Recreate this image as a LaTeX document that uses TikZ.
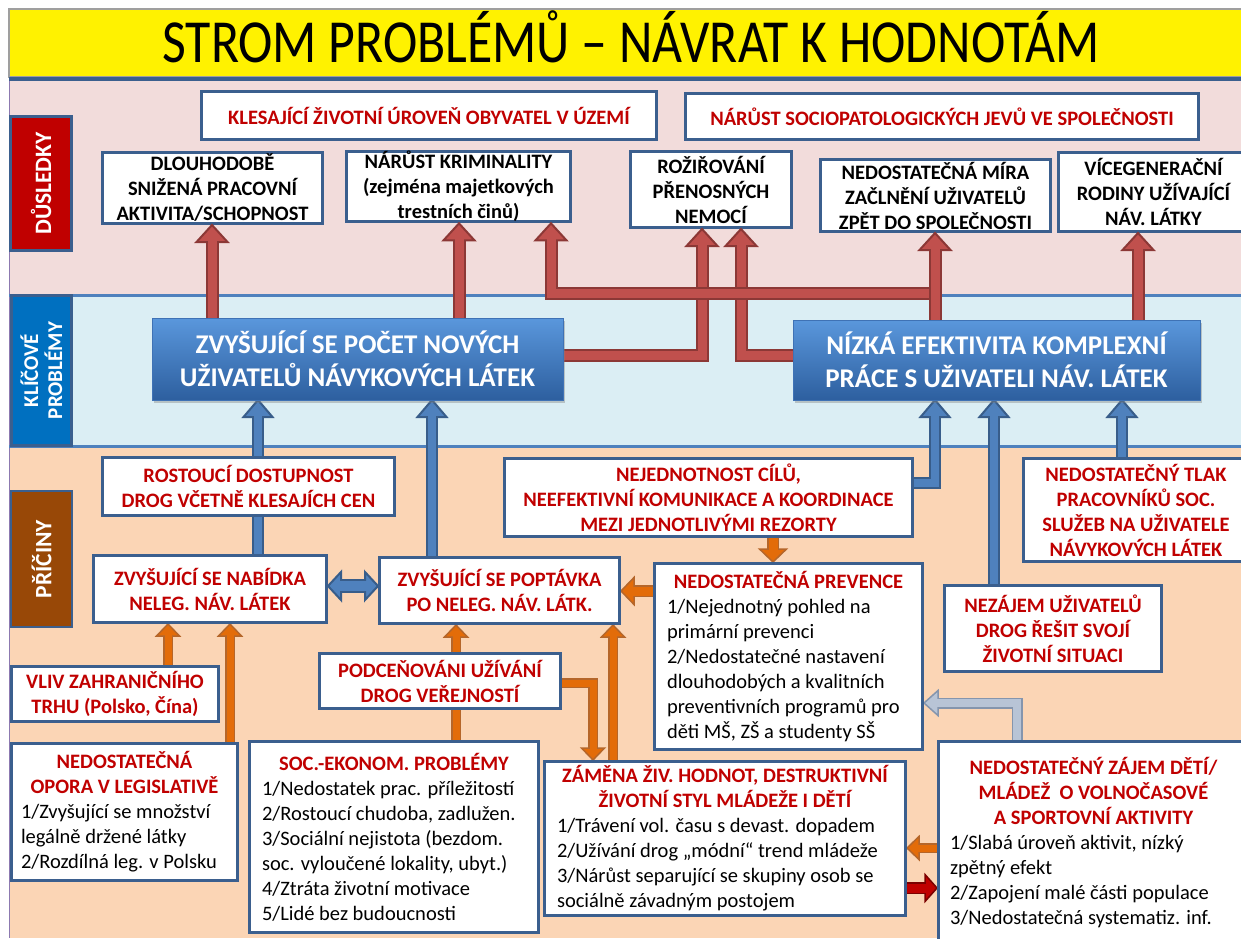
\documentclass[tikz,border=0pt]{standalone}
\usepackage{fontspec}
\setmainfont{Carlito}
\usetikzlibrary{shadows}

% palette
\definecolor{bandPink}{HTML}{F2DCDB}
\definecolor{bandBlue}{HTML}{DBEEF4}
\definecolor{bandPeach}{HTML}{FBD5B5}
\definecolor{frame}{HTML}{3B5F8E}
\definecolor{lineBlue}{HTML}{4F81BD}
\definecolor{txtRed}{HTML}{C00000}
\definecolor{sideRed}{HTML}{C00000}
\definecolor{sideBlue}{HTML}{0070C0}
\definecolor{sideBrown}{HTML}{984807}
\definecolor{redF}{HTML}{C0504D}
\definecolor{redB}{HTML}{8C3836}
\definecolor{blueF}{HTML}{4F81BD}
\definecolor{blueB}{HTML}{385D8A}
\definecolor{orF}{HTML}{E36C09}
\definecolor{orB}{HTML}{B5662A}
\definecolor{grayF}{HTML}{B8C4D6}
\definecolor{grayB}{HTML}{8595AD}
\definecolor{dredF}{HTML}{C00000}
\definecolor{dredB}{HTML}{7B0000}
\definecolor{keyTop}{HTML}{5A97DC}
\definecolor{keyBot}{HTML}{2D5F9F}
\definecolor{keyEdge}{HTML}{3F72B5}
\definecolor{edgeViolet}{HTML}{8C79B0}

\tikzset{
  redarrow/.code={\def\aw{9pt}\def\ow{13pt}\def\bw{2pt}\def\hl{17pt}\def\hlf{15pt}\def\hh{15.5pt}\colorlet{af}{redF}\colorlet{ab}{redB}},
  bluearrow/.code={\def\aw{8pt}\def\ow{12pt}\def\bw{2pt}\def\hl{17pt}\def\hlf{15pt}\def\hh{14.5pt}\colorlet{af}{blueF}\colorlet{ab}{blueB}},
  bluedbl/.code={\def\aw{10pt}\def\ow{14pt}\def\bw{2pt}\def\hl{13pt}\def\hlf{11pt}\def\hh{14pt}\colorlet{af}{blueF}\colorlet{ab}{blueB}},
  orangearrow/.code={\def\aw{7pt}\def\ow{10pt}\def\bw{1.5pt}\def\hl{12pt}\def\hlf{10.5pt}\def\hh{11.5pt}\colorlet{af}{orF}\colorlet{ab}{orB}},
  orangebig/.code={\def\aw{9pt}\def\ow{12pt}\def\bw{1.5pt}\def\hl{13pt}\def\hlf{11.5pt}\def\hh{13.5pt}\colorlet{af}{orF}\colorlet{ab}{orB}},
  grayarrow/.code={\def\aw{8pt}\def\ow{11pt}\def\bw{1.5pt}\def\hl{14pt}\def\hlf{12.5pt}\def\hh{12.5pt}\colorlet{af}{grayF}\colorlet{ab}{grayB}},
  darkredarrow/.code={\def\aw{9pt}\def\ow{12pt}\def\bw{1.5pt}\def\hl{12pt}\def\hlf{10.5pt}\def\hh{13.5pt}\colorlet{af}{dredF}\colorlet{ab}{dredB}},
  box/.style={rectangle, draw=frame, line width=3pt, fill=white, inner sep=0pt, align=center,
    font=\bfseries\fontsize{20.5pt}{25pt}\selectfont},
  conbox/.style={box, text=black},
  causebox/.style={box, text=txtRed},
  listbox/.style={box, text=black, font=\fontsize{20.5pt}{25pt}\selectfont},
  listw/.style={execute at begin node={\def\lw{#1pt}}},
  place/.style={inner sep=0pt, outer sep=1.5pt},
  keybox/.style={rectangle, inner sep=0pt, align=center, text=white, draw=keyEdge, line width=1pt,
    top color=keyTop, bottom color=keyBot,
    drop shadow={shadow xshift=2pt, shadow yshift=-3pt, opacity=0.4},
    font=\bfseries\fontsize{27pt}{33pt}\selectfont},
  sidebox/.style={rectangle, draw=frame, line width=2.5pt, inner sep=0pt, align=center, text=white,
    rotate=90, font=\bfseries\fontsize{23.5pt}{24pt}\selectfont},
}

% fat arrow: #1 palette, #2 path up to the last point, #3 tip, #4 direction of the last segment
\newcommand\blockarrow[4]{%
  \begin{scope}[#1, line join=miter]
    \coordinate (tip) at (#3);
    \draw[ab, line width=\ow, shorten >=\hl] #2 (tip);
    \filldraw[fill=af, draw=ab, line width=\bw]
      (tip) -- ([shift={({#4+180}:\hl)}, shift={({#4+90}:\hh)}]tip)
            -- ([shift={({#4+180}:\hl)}, shift={({#4-90}:\hh)}]tip) -- cycle;
    \draw[af, line width=\aw, shorten >=\hlf] #2 (tip);
  \end{scope}}

% fat arrow with a head at both ends
\newcommand\dblarrow[4]{%
  \begin{scope}[#1, line join=miter]
    \coordinate (tipA) at (#2);
    \coordinate (tipB) at (#3);
    \draw[ab, line width=\ow, shorten >=\hl, shorten <=\hl] (tipA) -- (tipB);
    \filldraw[fill=af, draw=ab, line width=\bw]
      (tipB) -- ([shift={({#4+180}:\hl)}, shift={({#4+90}:\hh)}]tipB)
             -- ([shift={({#4+180}:\hl)}, shift={({#4-90}:\hh)}]tipB) -- cycle;
    \filldraw[fill=af, draw=ab, line width=\bw]
      (tipA) -- ([shift={(#4:\hl)}, shift={({#4+90}:\hh)}]tipA)
             -- ([shift={(#4:\hl)}, shift={({#4-90}:\hh)}]tipA) -- cycle;
    \draw[af, line width=\aw, shorten >=\hlf, shorten <=\hlf] (tipA) -- (tipB);
  \end{scope}}

\newcommand\hd[1]{{\color{txtRed}\bfseries #1}}
\newcommand\li[1]{\makebox[\lw][l]{#1}}

\begin{document}
\begin{tikzpicture}[x=1pt,y=-1pt]
\useasboundingbox (0,0) rectangle (1241,938);
\clip (0,0) rectangle (1241,938);
\fill[white] (0,0) rectangle (1241,938);

% title bar
\filldraw[fill=yellow, draw=gray!75, line width=1.2pt] (9,9) rectangle (1250,77);
\node[anchor=base, font=\fontsize{51pt}{55pt}\selectfont] (title) at (631,62)
  {\scalebox{1.015}[1.2]{STROM PROBLÉMŮ – NÁVRAT K HODNOTÁM}};

% three bands
\fill[bandPink] (9,79) rectangle (1241,295);
\fill[bandBlue] (9,295) rectangle (1241,446);
\fill[bandPeach] (9,446) rectangle (1241,938);
\draw[edgeViolet, line width=1.2pt] (9.5,79) -- (9.5,938);
\draw[frame, line width=4pt] (9,79) -- (1241,79);
\draw[lineBlue, line width=3pt] (9,295) -- (1241,295);
\draw[lineBlue, line width=3pt] (9,446) -- (1241,446);

% section labels
\node[sidebox, fill=sideRed, minimum width=134pt, minimum height=61pt] (sD) at (41,183.5) {DŮSLEDKY};
\node[sidebox, fill=sideBlue, minimum width=150pt, minimum height=60pt,
      font=\bfseries\fontsize{21pt}{24pt}\selectfont] (sK) at (41.5,370.5) {KLÍČOVÉ\\PROBLÉMY};
\node[sidebox, fill=sideBrown, minimum width=136pt, minimum height=61pt] (sP) at (41.5,559) {PŘÍČINY};

% consequences
\node[causebox, minimum width=455pt, minimum height=48pt] (T1) at (429,115.5) {KLESAJÍCÍ ŽIVOTNÍ ÚROVEŇ OBYVATEL V ÚZEMÍ};
\node[causebox, minimum width=513pt, minimum height=46pt] (T2) at (942,116.5) {NÁRŮST SOCIOPATOLOGICKÝCH JEVŮ VE SPOLEČNOSTI};
\node[conbox, minimum width=220pt, minimum height=71pt] (C1) at (212.5,188) {DLOUHODOBĚ\\SNIŽENÁ PRACOVNÍ\\AKTIVITA/SCHOPNOST};
\node[conbox, minimum width=224pt, minimum height=70pt] (C2) at (458.5,186.5) {NÁRŮST KRIMINALITY\\(zejména majetkových\\trestních činů)};
\node[conbox, minimum width=161pt, minimum height=76pt] (C3) at (711,189.5) {ROŽIŘOVÁNÍ\\PŘENOSNÝCH\\NEMOCÍ};
\node[conbox, minimum width=230pt, minimum height=72pt] (C4) at (935.5,195.5) {NEDOSTATEČNÁ MÍRA\\ZAČLNĚNÍ UŽIVATELŮ\\ZPĚT DO SPOLEČNOSTI};
\node[conbox, minimum width=190pt, minimum height=79pt] (C5) at (1153.5,192) {VÍCEGENERAČNÍ\\RODINY UŽÍVAJÍCÍ\\NÁV. LÁTKY};

% places of the key problems and causes, so that connectors can run beneath the boxes
\path (357.5,359) node[place, outer sep=0pt, minimum width=411pt, minimum height=82pt] (K1) {};
\path (996.5,360) node[place, outer sep=0pt, minimum width=407pt, minimum height=80pt] (K2) {};
\path (248.5,486.5) node[place, minimum width=292pt, minimum height=58pt] (P1) {};
\path (210,589) node[place, minimum width=233pt, minimum height=67pt] (P2) {};
\path (499.5,590.5) node[place, minimum width=240pt, minimum height=66pt] (P3) {};
\path (708.5,497.5) node[place, minimum width=408pt, minimum height=78pt] (P4) {};
\path (788.5,656.5) node[place, minimum width=268pt, minimum height=186pt] (P5) {};
\path (1136,510) node[place, minimum width=225pt, minimum height=103pt] (P6) {};
\path (1053,628.5) node[place, minimum width=217pt, minimum height=86pt] (P7) {};
\path (115,694) node[place, minimum width=207pt, minimum height=55pt] (P8) {};
\path (124.5,812) node[place, minimum width=226pt, minimum height=137pt] (P9) {};
\path (440,681) node[place, minimum width=241pt, minimum height=55pt] (P10) {};
\path (394,837) node[place, minimum width=289pt, minimum height=191pt] (P11) {};
\path (725,838.5) node[place, minimum width=361pt, minimum height=154pt] (P12) {};
\path (1093.5,842.5) node[place, minimum width=310pt, minimum height=202pt] (P13) {};

% key problems -> consequences
\blockarrow{redarrow}{(K1.east |- 0,355) -- (702,355) --}{702,0 |- C3.south}{90}
\blockarrow{redarrow}{(K2.west |- 0,355) -- (741,355) --}{741,0 |- C3.south}{90}
\coordinate (fork) at (935,293);
\blockarrow{redarrow}{(fork) -- (551,293) --}{551,0 |- C2.south}{90}
\blockarrow{redarrow}{(935,0 |- K2.north) --}{935,0 |- C4.south}{90}
\blockarrow{redarrow}{(212,0 |- K1.north) --}{212,0 |- C1.south}{90}
\blockarrow{redarrow}{(459,0 |- K1.north) --}{459,0 |- C2.south}{90}
\blockarrow{redarrow}{(1138,0 |- K2.north) --}{1138,0 |- C5.south}{90}

% causes -> key problems
\blockarrow{bluearrow}{(258,0 |- P2.north) --}{258,0 |- K1.south}{90}
\blockarrow{bluearrow}{(432,0 |- P3.north) --}{432,0 |- K1.south}{90}
\blockarrow{bluearrow}{(P4.east |- 0,483) -- (935,483) --}{935,0 |- K2.south}{90}
\blockarrow{bluearrow}{(994,0 |- P7.north) --}{994,0 |- K2.south}{90}
\blockarrow{bluearrow}{(1122,0 |- P6.north) --}{1122,0 |- K2.south}{90}
\dblarrow{bluedbl}{P2.east |- 0,586}{P3.west |- 0,586}{0}

% links between causes
\blockarrow{orangebig}{(773,0 |- P4.south) --}{773,0 |- P5.north}{270}
\blockarrow{orangebig}{(P5.west |- 0,591) --}{P3.east |- 0,591}{180}
\blockarrow{orangearrow}{(613,0 |- P12.north) --}{613,0 |- P3.south}{90}
\blockarrow{orangearrow}{(P10.east |- 0,683) -- (593,683) --}{593,0 |- P12.north}{270}
\blockarrow{orangearrow}{(456,0 |- P11.north) --}{456,0 |- P3.south}{90}
\blockarrow{orangearrow}{(168,0 |- P8.north) --}{168,0 |- P2.south}{90}
\blockarrow{orangearrow}{(230,0 |- P9.north) --}{230,0 |- P2.south}{90}
\blockarrow{orangearrow}{(P13.west |- 0,848) --}{P12.east |- 0,848}{180}
\blockarrow{darkredarrow}{(P12.east |- 0,888) --}{P13.west |- 0,888}{0}
\blockarrow{grayarrow}{(1017,0 |- P13.north) -- (1017,703) --}{P5.east |- 0,703}{180}

% key problem boxes
\node[keybox, minimum width=411pt, minimum height=82pt] (K1b) at (K1) {ZVYŠUJÍCÍ SE POČET NOVÝCH\\UŽIVATELŮ NÁVYKOVÝCH LÁTEK};
\node[keybox, minimum width=407pt, minimum height=80pt] (K2b) at (K2) {NÍZKÁ EFEKTIVITA KOMPLEXNÍ\\PRÁCE S UŽIVATELI NÁV. LÁTEK};

% cause boxes
\node[causebox, minimum width=292pt, minimum height=58pt] (P1b) at (P1) {ROSTOUCÍ DOSTUPNOST\\DROG VČETNĚ KLESAJÍCH CEN};
\node[causebox, minimum width=233pt, minimum height=67pt] (P2b) at (P2) {ZVYŠUJÍCÍ SE NABÍDKA\\NELEG. NÁV. LÁTEK};
\node[causebox, minimum width=240pt, minimum height=66pt] (P3b) at (P3) {ZVYŠUJÍCÍ SE POPTÁVKA\\PO NELEG. NÁV. LÁTK.};
\node[causebox, minimum width=408pt, minimum height=78pt] (P4b) at (P4) {NEJEDNOTNOST CÍLŮ,\\NEEFEKTIVNÍ KOMUNIKACE A KOORDINACE\\MEZI JEDNOTLIVÝMI REZORTY};
\node[listbox, listw=243, minimum width=268pt, minimum height=186pt] (P5b) at (P5)
  {\hd{NEDOSTATEČNÁ PREVENCE}\\\li{1/Nejednotný pohled na}\\\li{primární prevenci}\\\li{2/Nedostatečné nastavení}\\\li{dlouhodobých a kvalitních}\\\li{preventivních programů pro}\\\li{děti MŠ, ZŠ a studenty SŠ}};
\node[causebox, minimum width=225pt, minimum height=103pt] (P6b) at (P6) {NEDOSTATEČNÝ TLAK\\PRACOVNÍKŮ SOC.\\SLUŽEB NA UŽIVATELE\\NÁVYKOVÝCH LÁTEK};
\node[causebox, minimum width=217pt, minimum height=86pt] (P7b) at (P7) {NEZÁJEM UŽIVATELŮ\\DROG ŘEŠIT SVOJÍ\\ŽIVOTNÍ SITUACI};
\node[causebox, minimum width=207pt, minimum height=55pt] (P8b) at (P8) {VLIV ZAHRANIČNÍHO\\TRHU (Polsko, Čína)};
\node[listbox, listw=207, minimum width=226pt, minimum height=137pt] (P9b) at (P9)
  {\hd{NEDOSTATEČNÁ}\\\hd{OPORA V LEGISLATIVĚ}\\\li{1/Zvyšující se množství}\\\li{legálně držené látky}\\\li{2/Rozdílná leg. v Polsku}};
\node[causebox, minimum width=241pt, minimum height=55pt] (P10b) at (P10) {PODCEŇOVÁNI UŽÍVÁNÍ\\DROG VEŘEJNOSTÍ};
\node[listbox, listw=264, minimum width=289pt, minimum height=191pt] (P11b) at (P11)
  {\hd{SOC.-EKONOM. PROBLÉMY}\\\li{1/Nedostatek prac. příležitostí}\\\li{2/Rostoucí chudoba, zadlužen.}\\\li{3/Sociální nejistota (bezdom.}\\\li{soc. vyloučené lokality, ubyt.)}\\\li{4/Ztráta životní motivace}\\\li{5/Lidé bez budoucnosti}};
\node[listbox, listw=336, minimum width=361pt, minimum height=154pt] (P12b) at (P12)
  {\hd{ZÁMĚNA ŽIV. HODNOT, DESTRUKTIVNÍ}\\\hd{ŽIVOTNÍ STYL MLÁDEŽE I DĚTÍ}\\\li{1/Trávení vol. času s devast. dopadem}\\\li{2/Užívání drog „módní“ trend mládeže}\\\li{3/Nárůst separující se skupiny osob se}\\\li{sociálně závadným postojem}};
\node[listbox, listw=287, minimum width=310pt, minimum height=202pt] (P13b) at (P13)
  {\hd{NEDOSTATEČNÝ ZÁJEM DĚTÍ/}\\\hd{MLÁDEŽ\ \ O VOLNOČASOVÉ}\\\hd{A SPORTOVNÍ AKTIVITY}\\\li{1/Slabá úroveň aktivit, nízký}\\\li{zpětný efekt}\\\li{2/Zapojení malé části populace}\\\li{3/Nedostatečná systematiz. inf.}};
\end{tikzpicture}
\end{document}
